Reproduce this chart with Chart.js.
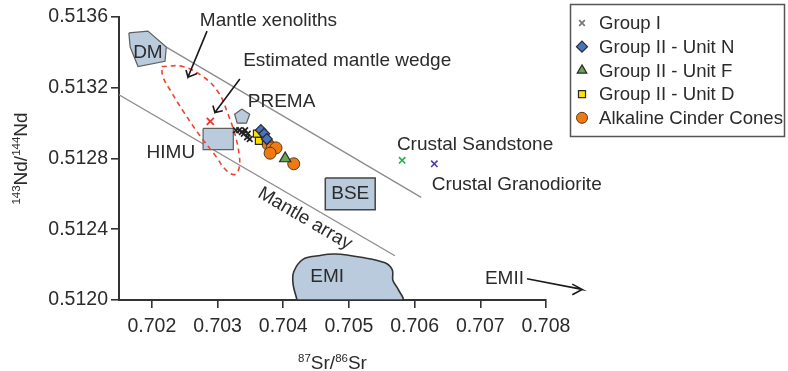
<!DOCTYPE html>
<html><head><meta charset="utf-8">
<script src="https://cdn.jsdelivr.net/npm/chart.js@4.4.0/dist/chart.umd.min.js"></script>
<style>html,body{margin:0;padding:0;background:#fff}#wrap{width:788px;height:371px;position:relative}</style>
</head><body><div id="wrap"><canvas id="c"></canvas></div>
<script>
// ---- tick values ----
const xTicks = [0.702, 0.703, 0.704, 0.705, 0.706, 0.707, 0.708];
const yTicks = [0.5120, 0.5124, 0.5128, 0.5132, 0.5136];

// ---- sample series (87Sr/86Sr, 143Nd/144Nd) ----
const groupI = [[0.70328,0.51296],[0.70333,0.51296],[0.70337,0.51295],[0.70342,0.51296],[0.70346,0.51294],[0.70345,0.51292],[0.70349,0.51291],[0.70340,0.51294]];
const unitN = [[0.70366,0.51296],[0.70371,0.51294],[0.70375,0.51291]];
const unitF = [[0.70403,0.51280]];
const unitD = [[0.70360,0.51294],[0.70363,0.51290]];
const alkaline = [[0.70377,0.51288],[0.70383,0.51286],[0.70389,0.51286],[0.70380,0.51283],[0.70416,0.51277]];
const sandstone = [[0.70581,0.51279]];
const granodiorite = [[0.70630,0.51277]];
const xenolith = [[0.70289,0.51301]];

// ---- reservoir fields ----
const dmField = [[0.70165,0.51351],[0.70194,0.51352],[0.70222,0.51343],[0.70220,0.51335],[0.70179,0.51332],[0.70167,0.51343],[0.70165,0.51351]];
const himuField = [[0.70278,0.51297],[0.70324,0.51297],[0.70324,0.51285],[0.70278,0.51285],[0.70278,0.51297]];
const bseField = [[0.70464,0.51269],[0.70540,0.51269],[0.70540,0.51251],[0.70464,0.51251],[0.70464,0.51269]];
const premaField = [[0.70337,0.51308],[0.70349,0.51305],[0.70344,0.51300],[0.70330,0.51300],[0.70326,0.51305],[0.70337,0.51308]];
const emiField = [[0.70421,0.51200],[0.70415,0.51209],[0.70416,0.51216],[0.70430,0.51223],[0.70453,0.51225],[0.70479,0.51226],[0.70521,0.51224],[0.70555,0.51221],[0.70566,0.51217],[0.70567,0.51211],[0.70575,0.51206],[0.70581,0.51200],[0.70421,0.51200]];
const wedgeOutline = [[0.70215,0.51332],[0.70247,0.51332],[0.70279,0.51326],[0.70302,0.51317],[0.70316,0.51305],[0.70327,0.51293],[0.70333,0.51282],[0.70333,0.51275],[0.70327,0.51271],[0.70314,0.51273],[0.70296,0.51282],[0.70273,0.51293],[0.70249,0.51306],[0.70229,0.51318],[0.70217,0.51326],[0.70215,0.51332]];

// ---- mantle array lines and arrows ----
const upperArray = [[0.70222,0.51343],[0.70610,0.51258]];
const lowerArray = [[0.70150,0.51316],[0.70570,0.51225]];
const arrowXeno = [[0.70284,0.51352],[0.70255,0.51326],[0.70252,0.51330],[0.70255,0.51326],[0.70269,0.51328]];
const arrowWedge = [[0.70334,0.51325],[0.70296,0.51306],[0.70293,0.51310],[0.70296,0.51306],[0.70308,0.51307]];
const arrowEMII = [[0.70771,0.51212],[0.70855,0.51206],[0.70840,0.51209],[0.70855,0.51206],[0.70840,0.51203]];

// ---- text annotations ----
const labels = [
  {text:'Mantle xenoliths', x:0.70273, y:0.51358, align:'left'},
  {text:'Estimated mantle wedge', x:0.70339, y:0.51335, align:'left'},
  {text:'PREMA', x:0.70346, y:0.51312, align:'left'},
  {text:'HIMU', x:0.70192, y:0.51283, align:'left'},
  {text:'DM', x:0.70194, y:0.51340, align:'center'},
  {text:'BSE', x:0.70502, y:0.51260, align:'center'},
  {text:'EMI', x:0.70467, y:0.51213, align:'center'},
  {text:'EMII', x:0.70707, y:0.51212, align:'left'},
  {text:'Crustal Sandstone', x:0.70573, y:0.51288, align:'left'},
  {text:'Crustal Granodiorite', x:0.70626, y:0.51265, align:'left'}
];
const arrayLabel = {text:'Mantle array', x:0.70433, y:0.51246};

const P = a => a.map(([x,y]) => ({x, y}));
const FONT = '"Liberation Sans", Arial, sans-serif';
const TXT = '#2b2b2b';

function shape(data, fillColor, border, bw, order) {
  return {data:P(data), showLine:true, fill:'shape', backgroundColor:fillColor, borderColor:border, borderWidth:bw, pointRadius:0, tension:0, order};
}
function line(data, color, w, order, extra) {
  return Object.assign({data:P(data), showLine:true, fill:false, borderColor:color, borderWidth:w, pointRadius:0, order}, extra||{});
}
function pts(label, data, style, fillColor, border, r, bw, legend) {
  return {label, data:P(data), showLine:false, pointStyle:style, pointRadius:r, pointBackgroundColor:fillColor, pointBorderColor:border, pointBorderWidth:bw, order:1, inLegend:legend};
}

const datasets = [
  pts('Group I', groupI, 'crossRot', '#222', '#222', 4, 1.7, true),
  pts('Group II - Unit N', unitN, 'rectRot', '#4a72c0', '#2a2a2a', 5.5, 1.2, true),
  pts('Group II - Unit F', unitF, 'triangle', '#6aa84f', '#2a2a2a', 6.5, 1.2, true),
  pts('Group II - Unit D', unitD, 'rect', '#ffe200', '#2a2a2a', 5, 1.2, true),
  pts('Alkaline Cinder Cones', alkaline, 'circle', '#f07a12', '#5a3a1a', 6, 1, true),
  pts('Crustal Sandstone', sandstone, 'crossRot', '#22b04a', '#22b04a', 4.5, 1.6, false),
  pts('Crustal Granodiorite', granodiorite, 'crossRot', '#4a3cb8', '#4a3cb8', 4.5, 1.6, false),
  pts('Xenolith', xenolith, 'crossRot', '#e53a2e', '#e53a2e', 5, 1.8, false),
  shape(dmField, '#b9cbdc', '#5f5f5f', 1.2, 6),
  shape(himuField, '#b9cbdc', '#5f5f5f', 1.2, 6),
  shape(bseField, '#b9cbdc', '#444', 1.5, 6),
  shape(premaField, '#b9cbdc', '#5f5f5f', 1.2, 6),
  Object.assign(shape(emiField, '#b9cbdc', '#333', 1.6, 6), {tension:0.35}),
  line(upperArray, '#8c8c8c', 1.3, 7),
  line(lowerArray, '#8c8c8c', 1.3, 7),
  line(wedgeOutline, '#ee4433', 1.6, 5, {borderDash:[5,4], tension:0.4}),
  line(arrowXeno, '#1a1a1a', 1.6, 3),
  line(arrowWedge, '#1a1a1a', 1.6, 3),
  line(arrowEMII, '#1a1a1a', 1.6, 3, {clip:false})
];

const annotate = {
  id:'annotate',
  afterDatasetsDraw(chart) {
    const {ctx, scales:{x, y}} = chart;
    ctx.save();
    ctx.fillStyle = TXT;
    ctx.font = '19px ' + FONT;
    ctx.textBaseline = 'middle';
    labels.forEach(l => {
      ctx.textAlign = l.align;
      ctx.fillText(l.text, x.getPixelForValue(l.x), y.getPixelForValue(l.y));
    });
    const ang = Math.atan2(y.getPixelForValue(lowerArray[1][1]) - y.getPixelForValue(lowerArray[0][1]),
                           x.getPixelForValue(lowerArray[1][0]) - x.getPixelForValue(lowerArray[0][0]));
    ctx.translate(x.getPixelForValue(arrayLabel.x), y.getPixelForValue(arrayLabel.y));
    ctx.rotate(ang);
    ctx.textAlign = 'center';
    ctx.fillText(arrayLabel.text, 0, 0);
    ctx.restore();
  }
};

function supText(ctx, parts, x, y, align) {
  const big = '19px ' + FONT, small = '11.5px ' + FONT;
  let w = 0;
  parts.forEach(([t, s]) => { ctx.font = s ? small : big; w += ctx.measureText(t).width; });
  let cx = align === 'center' ? x - w/2 : x;
  parts.forEach(([t, s]) => {
    ctx.font = s ? small : big;
    ctx.textAlign = 'left';
    ctx.textBaseline = 'alphabetic';
    ctx.fillText(t, cx, s ? y - 7 : y);
    cx += ctx.measureText(t).width;
  });
}

const axisTitles = {
  id:'axisTitles',
  afterDraw(chart) {
    const {ctx, chartArea:a} = chart;
    ctx.save();
    ctx.fillStyle = TXT;
    supText(ctx, [['87',1],['Sr/',0],['86',1],['Sr',0]], (a.left + a.right)/2, 369, 'center');
    ctx.translate(27, (a.top + a.bottom)/2);
    ctx.rotate(-Math.PI/2);
    supText(ctx, [['143',1],['Nd/',0],['144',1],['Nd',0]], 0, 0, 'center');
    ctx.restore();
  }
};

const boxLegend = {
  id:'boxLegend',
  afterDraw(chart) {
    const {ctx} = chart;
    const items = chart.data.datasets.filter(d => d.inLegend);
    ctx.save();
    ctx.strokeStyle = '#555';
    ctx.lineWidth = 1.5;
    ctx.strokeRect(570.5, 4.5, 214, 132);
    ctx.font = '18.6px ' + FONT;
    ctx.textBaseline = 'middle';
    ctx.textAlign = 'left';
    items.forEach((d, i) => {
      const yy = 23 + i * 23.7;
      ctx.fillStyle = d.pointBackgroundColor;
      ctx.strokeStyle = d.pointStyle === 'crossRot' ? '#777' : d.pointBorderColor;
      ctx.lineWidth = d.pointBorderWidth;
      Chart.helpers.drawPoint(ctx, {pointStyle:d.pointStyle, radius:Math.min(d.pointRadius, 5.5), rotation:0, borderWidth:d.pointBorderWidth}, 582, yy);
      ctx.fillStyle = TXT;
      ctx.fillText(d.label, 599, yy + 1);
    });
    ctx.restore();
  }
};

new Chart(document.getElementById('c'), {
  type:'scatter',
  data:{datasets},
  plugins:[annotate, axisTitles, boxLegend],
  options:{
    responsive:true, maintainAspectRatio:false, animation:false, devicePixelRatio:1,
    events:[],
    layout:{padding:{left:0, top:17, right:242, bottom:0}},
    plugins:{legend:{display:false}, tooltip:{enabled:false}},
    scales:{
      x:{type:'linear', min:0.7015, max:0.708,
        afterBuildTicks(s){ s.ticks = xTicks.map(v => ({value:v})); },
        afterFit(s){ s.height = 71; },
        ticks:{callback:v => v.toFixed(3), font:{size:19.5, family:FONT}, color:TXT, padding:7, maxRotation:0},
        grid:{display:true, drawOnChartArea:false, drawTicks:true, tickLength:8, tickColor:'#333', lineWidth:1.6},
        border:{display:true, color:'#333', width:2}
      },
      y:{type:'linear', min:0.5120, max:0.5136,
        afterBuildTicks(s){ s.ticks = yTicks.map(v => ({value:v})); },
        afterFit(s){ s.width = 119; },
        ticks:{callback:v => v.toFixed(4), font:{size:19.5, family:FONT}, color:TXT, padding:3},
        grid:{display:true, drawOnChartArea:false, drawTicks:true, tickLength:8, tickColor:'#333', lineWidth:1.6},
        border:{display:true, color:'#333', width:2}
      }
    }
  }
});
</script></body></html>
